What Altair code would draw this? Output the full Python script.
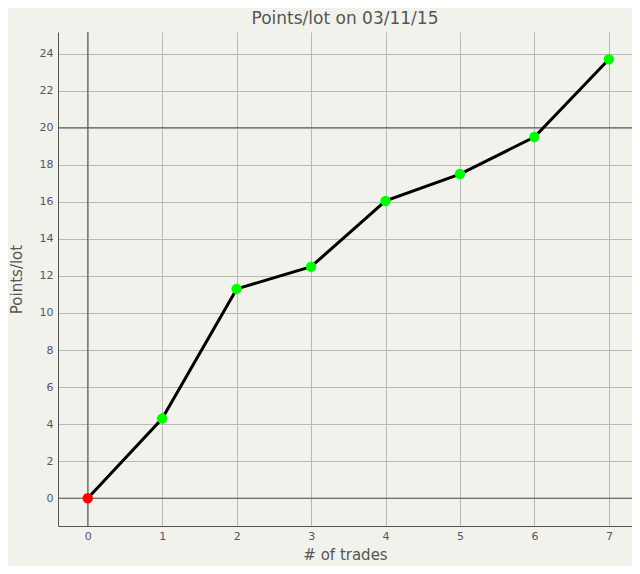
import altair as alt
import pandas as pd

trades = [0, 1, 2, 3, 4, 5, 6, 7]
points = [0.0, 4.3, 11.3, 12.5, 16.05, 17.5, 19.5, 23.7]
colors = ["#ff0000", "#00ff00", "#00ff00", "#00ff00", "#00ff00", "#00ff00", "#00ff00", "#00ff00"]
dark_y = [0, 20]
dark_x = [0]

df = pd.DataFrame({"trades": trades, "points": points, "color": colors})
dy = pd.DataFrame({"y": dark_y})
dx = pd.DataFrame({"x": dark_x})

font = "DejaVu Sans"
xscale = alt.Scale(domain=[-0.4, 7.31], nice=False, zero=False)
yscale = alt.Scale(domain=[-1.5, 25.17], nice=False, zero=False)

xaxis = alt.Axis(values=trades, format="d", title="# of trades", grid=True, gridColor="#b8b8b8",
                 ticks=False, labelPadding=4, domainColor="#555555",
                 labelColor="#555566", labelFontSize=11, labelFont=font,
                 titleFont=font, titleFontSize=15, titleFontWeight="normal",
                 titleColor="#555555", titlePadding=6)
yaxis = alt.Axis(values=list(range(0, 25, 2)), format="d", title="Points/lot", grid=True, gridColor="#b8b8b8",
                 ticks=False, labelPadding=5, domainColor="#555555",
                 labelColor="#555566", labelFontSize=11, labelFont=font,
                 titleFont=font, titleFontSize=15, titleFontWeight="normal",
                 titleColor="#555555", titlePadding=15)

base = alt.Chart(df)

line = base.mark_line(color="black", strokeWidth=3).encode(
    x=alt.X("trades:Q", scale=xscale, axis=xaxis),
    y=alt.Y("points:Q", scale=yscale, axis=yaxis),
)

hrules = alt.Chart(dy).mark_rule(color="#555555", strokeWidth=1).encode(
    y=alt.Y("y:Q", scale=yscale)
)
vrules = alt.Chart(dx).mark_rule(color="#555555", strokeWidth=1).encode(
    x=alt.X("x:Q", scale=xscale)
)

pts = base.mark_circle(size=110, opacity=1).encode(
    x=alt.X("trades:Q", scale=xscale),
    y=alt.Y("points:Q", scale=yscale),
    color=alt.Color("color:N", scale=None),
)

chart = alt.layer(hrules, vrules, line, pts).properties(
    width=574,
    height=494,
    title=alt.TitleParams("Points/lot on 03/11/15", font=font, fontSize=17,
                          fontWeight="normal", color="#555555", offset=4),
    background="#f2f2ec",
    autosize=alt.AutoSizeParams(type="none"),
    padding={"left": 50, "top": 24, "right": 0, "bottom": 40},
).configure_view(stroke=None)

chart.save("out.html", embed_options={"renderer": "svg", "actions": False})
